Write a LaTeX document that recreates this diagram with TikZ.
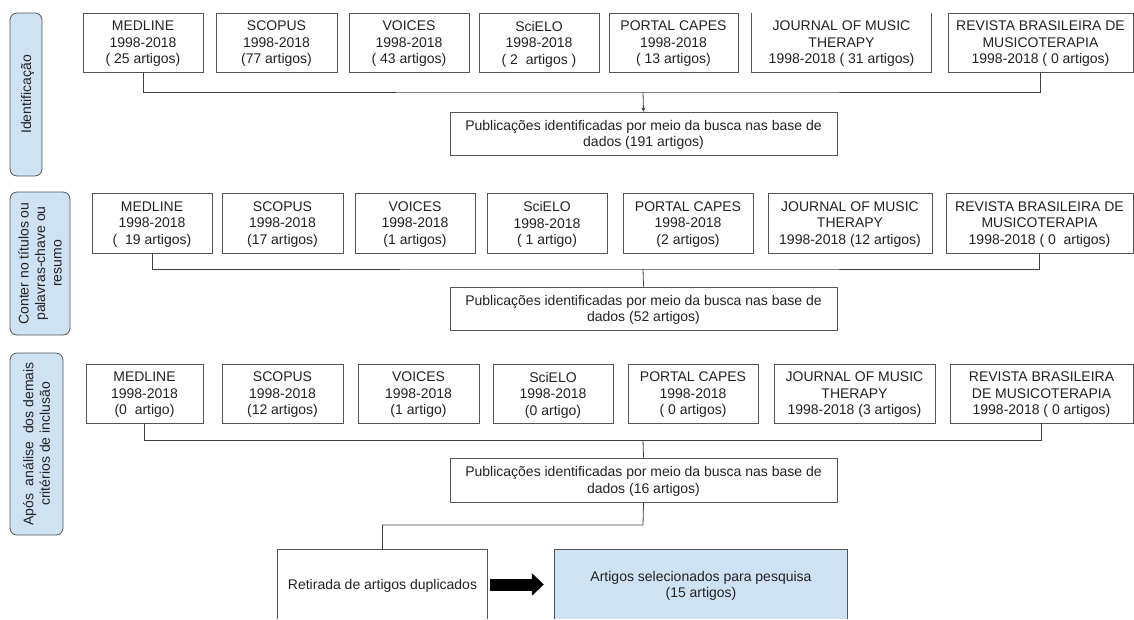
\documentclass[tikz,border=0pt]{standalone}
\usepackage{fontspec}
\setmainfont{Liberation Sans}
\usetikzlibrary{arrows.meta}
\definecolor{bordergray}{HTML}{555555}
\definecolor{linegray}{HTML}{404040}
\definecolor{txt}{HTML}{222222}
\definecolor{lblue}{HTML}{CFE2F3}
\tikzset{
  base/.style={inner sep=0pt, align=center, text=txt, text depth=-4pt, font=\fontsize{14}{16.5}\selectfont},
  box/.style={base, draw=bordergray, line width=0.8pt},
  openbox/.style={base},
  sidelabel/.style={base, draw=bordergray, line width=0.8pt, fill=lblue, rounded corners=7pt, rotate=90},
  bus/.style={draw=linegray, line width=0.8pt},
  blockarrow/.style={draw=black, line width=12pt, -{Triangle[length=12pt,width=22pt]}, shorten <=3pt, shorten >=11pt}
}
\begin{document}
\begin{tikzpicture}[x=1pt,y=-1pt]
\useasboundingbox (0,0) rectangle (1134,619);
% side labels
\node[sidelabel, minimum width=163pt, minimum height=32pt] (L1) at (26,94.5) {Identificação};
\node[sidelabel, minimum width=143pt, minimum height=60pt] (L2) at (40,263.5) {Conter no títulos ou\\palavras-chave ou\\resumo};
\node[sidelabel, minimum width=182pt, minimum height=53pt] (L3) at (36.5,444) {Após~~análise~~dos demais\\critérios de inclusão};
% row 1
\node[box, minimum width=120pt, minimum height=59pt] (m1) at (143,42.5) {MEDLINE\\1998-2018\\(~25 artigos)};
\node[box, minimum width=121pt, minimum height=59pt] (s1) at (276.5,42.5) {SCOPUS\\1998-2018\\(77 artigos)};
\node[box, minimum width=120pt, minimum height=59pt] (v1) at (409,42.5) {VOICES\\1998-2018\\(~43 artigos)};
\node[box, minimum width=120pt, minimum height=59pt] (e1) at (539,42.5) {SciELO\\1998-2018\\(~2~~artigos~)};
\node[box, minimum width=129pt, minimum height=59pt] (p1) at (673.5,42.5) {PORTAL CAPES\\1998-2018\\(~13 artigos)};
\node[openbox, minimum width=179pt, minimum height=59pt] (j1) at (841.5,42.5) {JOURNAL OF MUSIC\\THERAPY\\1998-2018 (~31 artigos)};
\draw[draw=bordergray, line width=0.8pt] (j1.north west) -- (j1.south west) -- (j1.south east) -- (j1.north east);
\node[box, minimum width=185pt, minimum height=59pt] (r1) at (1040.5,42.5) {REVISTA BRASILEIRA DE\\MUSICOTERAPIA\\1998-2018 (~0 artigos)};
\node[box, minimum width=387pt, minimum height=43pt] (pub1) at (643.5,133.5) {Publicações identificadas por meio da busca nas base de\\dados (191 artigos)};
\coordinate (bus1) at (643,92);
\path[bus] (m1.south) |- (bus1) -| (r1.south);
\draw[bus, -{Stealth[length=4pt,width=4pt]}] (bus1) -- (pub1.north);
% row 2
\node[box, minimum width=120pt, minimum height=60pt] (m2) at (152,223) {MEDLINE\\1998-2018\\(~~19 artigos)};
\node[box, minimum width=121pt, minimum height=60pt] (s2) at (282.5,223) {SCOPUS\\1998-2018\\(17 artigos)};
\node[box, minimum width=120pt, minimum height=60pt] (v2) at (415,223) {VOICES\\1998-2018\\(1 artigos)};
\node[box, minimum width=120pt, minimum height=60pt] (e2) at (547,223) {SciELO\\1998-2018\\(~1 artigo)};
\node[box, minimum width=130pt, minimum height=60pt] (p2) at (688,223) {PORTAL CAPES\\1998-2018\\(2 artigos)};
\node[box, minimum width=164pt, minimum height=60pt] (j2) at (850,223) {JOURNAL OF MUSIC\\THERAPY\\1998-2018 (12 artigos)};
\node[box, minimum width=187pt, minimum height=60pt] (r2) at (1039.5,223) {REVISTA BRASILEIRA DE\\MUSICOTERAPIA\\1998-2018 (~0~~artigos)};
\node[box, minimum width=387pt, minimum height=43pt] (pub2) at (643.5,308.5) {Publicações identificadas por meio da busca nas base de\\dados (52 artigos)};
\coordinate (bus2) at (643,269);
\path[bus] (m2.south) |- (bus2) -| (r2.south);
\draw[bus] (bus2) -- (pub2.north);
% row 3
\node[box, minimum width=117pt, minimum height=59pt] (m3) at (144.5,393.5) {MEDLINE\\1998-2018\\(0~~artigo)};
\node[box, minimum width=121pt, minimum height=59pt] (s3) at (282.5,393.5) {SCOPUS\\1998-2018\\(12 artigos)};
\node[box, minimum width=121pt, minimum height=59pt] (v3) at (418.5,393.5) {VOICES\\1998-2018\\(1 artigo)};
\node[box, minimum width=120pt, minimum height=59pt] (e3) at (553,393.5) {SciELO\\1998-2018\\(0 artigo)};
\node[box, minimum width=130pt, minimum height=59pt] (p3) at (693,393.5) {PORTAL CAPES\\1998-2018\\(~0 artigos)};
\node[box, minimum width=161pt, minimum height=59pt] (j3) at (854.5,393.5) {JOURNAL OF MUSIC\\THERAPY\\1998-2018 (3 artigos)};
\node[box, minimum width=183pt, minimum height=59pt] (r3) at (1041.5,393.5) {REVISTA BRASILEIRA\\DE MUSICOTERAPIA\\1998-2018 (~0 artigos)};
\node[box, minimum width=387pt, minimum height=44pt] (pub3) at (643.5,480) {Publicações identificadas por meio da busca nas base de\\dados (16 artigos)};
\coordinate (bus3) at (643,440);
\path[bus] (m3.south) |- (bus3) -| (r3.south);
\draw[bus] (bus3) -- (pub3.north);
% bottom
\node[openbox, minimum width=209pt, minimum height=69pt] (ret) at (382.5,584.5) {Retirada de artigos duplicados};
\draw[draw=bordergray, line width=0.8pt] (ret.south west) -- (ret.north west) -- (ret.north east) -- (ret.south east);
\node[openbox, fill=lblue, minimum width=292pt, minimum height=69pt] (sel) at (701,584.5) {Artigos selecionados para pesquisa\\(15 artigos)};
\draw[draw=bordergray, line width=0.8pt] (sel.south west) -- (sel.north west) -- (sel.north east) -- (sel.south east);
\coordinate (drop) at (643,525);
\path[bus] (pub3.south) -- (drop) -| (ret.north);
\draw[blockarrow] (ret.east) -- (sel.west);
\end{tikzpicture}
\end{document}
